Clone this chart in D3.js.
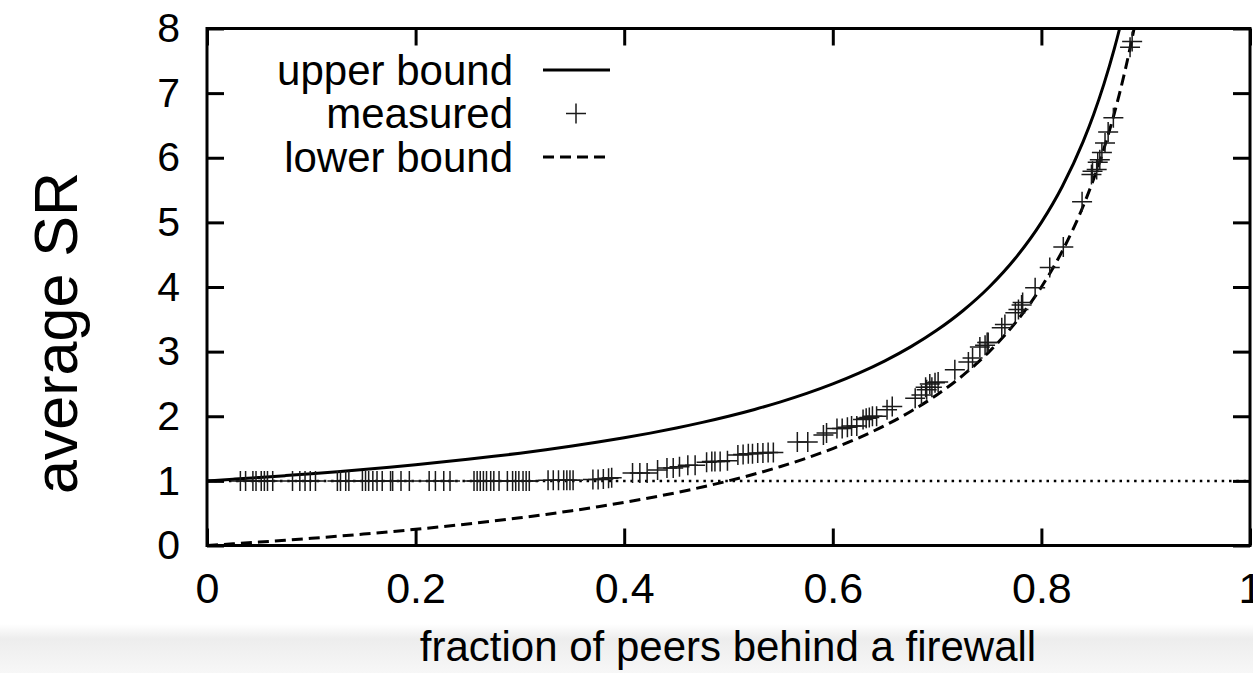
<!DOCTYPE html>
<html>
<head>
<meta charset="utf-8">
<script src="https://cdn.jsdelivr.net/npm/d3@7"></script>
<style>
  html, body { margin: 0; padding: 0; background: #fff; }
  svg { display: block; }
  text { font-family: "Liberation Sans", Arial, Helvetica, sans-serif; fill: #000; }
</style>
</head>
<body>
<svg id="chart" width="1253" height="673"></svg>
<script>
// ---- data ----
const xTicks = [0, 0.2, 0.4, 0.6, 0.8, 1];
const xTickLabels = ["0", "0.2", "0.4", "0.6", "0.8", "1"];
const yTicks = [0, 1, 2, 3, 4, 5, 6, 7, 8];
const yTickLabels = ["0", "1", "2", "3", "4", "5", "6", "7", "8"];

const boundX = [0, 0.025, 0.05, 0.075, 0.1, 0.125, 0.15, 0.175, 0.2, 0.225, 0.25, 0.275, 0.3, 0.325, 0.35, 0.375, 0.4, 0.425, 0.45, 0.475, 0.5, 0.525, 0.55, 0.575, 0.6, 0.625, 0.65, 0.675, 0.7, 0.725, 0.75, 0.775, 0.8, 0.82, 0.84, 0.85, 0.86, 0.87, 0.875, 0.88, 0.885, 0.89];
const upperBound = [1, 1.0256, 1.0526, 1.0811, 1.1111, 1.1429, 1.1765, 1.2121, 1.25, 1.2903, 1.3333, 1.3793, 1.4286, 1.4815, 1.5385, 1.6, 1.6667, 1.7391, 1.8182, 1.9048, 2, 2.1053, 2.2222, 2.3529, 2.5, 2.6667, 2.8571, 3.0769, 3.3333, 3.6364, 4, 4.4444, 5, 5.5556, 6.25, 6.6667, 7.1429, 7.6923, 8, 8.3333, 8.6957, 9.0909];
const lowerBound = [0, 0.0256, 0.0526, 0.0811, 0.1111, 0.1429, 0.1765, 0.2121, 0.25, 0.2903, 0.3333, 0.3793, 0.4286, 0.4815, 0.5385, 0.6, 0.6667, 0.7391, 0.8182, 0.9048, 1, 1.1053, 1.2222, 1.3529, 1.5, 1.6667, 1.8571, 2.0769, 2.3333, 2.6364, 3, 3.4444, 4, 4.5556, 5.25, 5.6667, 6.1429, 6.6923, 7, 7.3333, 7.6957, 8.0909];
const referenceLevel = [1, 1];
const referenceX = [0, 1];

const measuredX = [0.032, 0.037, 0.044, 0.047, 0.052, 0.055, 0.058, 0.063, 0.082, 0.089, 0.094, 0.099, 0.104, 0.125, 0.128, 0.133, 0.136, 0.149, 0.152, 0.155, 0.159, 0.163, 0.168, 0.176, 0.178, 0.186, 0.194, 0.213, 0.219, 0.227, 0.233, 0.256, 0.259, 0.262, 0.265, 0.268, 0.272, 0.275, 0.280, 0.288, 0.293, 0.296, 0.299, 0.303, 0.306, 0.309, 0.327, 0.332, 0.337, 0.342, 0.345, 0.348, 0.351, 0.370, 0.375, 0.380, 0.385, 0.388,
  0.408, 0.415, 0.422, 0.432, 0.441, 0.447, 0.453, 0.461, 0.468, 0.479, 0.484, 0.487, 0.492, 0.499, 0.509, 0.514, 0.519, 0.523, 0.528, 0.533, 0.538, 0.543, 0.566, 0.576, 0.591, 0.594, 0.604, 0.609, 0.614, 0.618, 0.623, 0.629, 0.632, 0.635, 0.638, 0.642, 0.652, 0.657, 0.679, 0.685, 0.689, 0.690, 0.693, 0.695, 0.698, 0.701, 0.717, 0.730, 0.734, 0.741, 0.746, 0.748, 0.749, 0.762, 0.765, 0.775, 0.778, 0.781, 0.782, 0.794, 0.808, 0.821, 0.839, 0.848, 0.849, 0.853, 0.854, 0.856, 0.858, 0.861, 0.864, 0.869, 0.885, 0.887];
const measuredY = [1.0, 1.0, 1.0, 1.0, 1.0, 1.0, 1.0, 1.0, 1.0, 1.0, 1.0, 1.0, 1.0, 1.0, 1.0, 1.0, 1.0, 1.0, 1.0, 1.0, 1.0, 1.0, 1.0, 1.0, 1.0, 1.0, 1.0, 1.0, 1.0, 1.0, 1.0, 1.0, 1.0, 1.0, 1.0, 1.0, 1.0, 1.0, 1.0, 1.0, 1.0, 1.0, 1.0, 1.0, 1.0, 1.0, 1.01, 1.01, 1.01, 1.01, 1.01, 1.01, 1.01, 1.02, 1.02, 1.03, 1.04, 1.05,
  1.12, 1.12, 1.12, 1.17, 1.20, 1.20, 1.22, 1.24, 1.24, 1.29, 1.30, 1.30, 1.30, 1.31, 1.40, 1.41, 1.42, 1.42, 1.43, 1.43, 1.44, 1.44, 1.60, 1.60, 1.71, 1.74, 1.81, 1.81, 1.83, 1.85, 1.85, 1.95, 1.97, 1.98, 2.00, 2.00, 2.10, 2.15, 2.28, 2.33, 2.45, 2.41, 2.50, 2.45, 2.52, 2.53, 2.72, 2.84, 2.90, 3.07, 3.10, 3.14, 3.14, 3.37, 3.42, 3.60, 3.65, 3.72, 3.76, 3.99, 4.30, 4.62, 5.32, 5.74, 5.79, 5.82, 5.93, 5.97, 6.08, 6.23, 6.40, 6.62, 7.71, 7.80];

const legendLabels = ["upper bound", "measured", "lower bound"];
const xTitle = "fraction of peers behind a firewall";
const yTitle = "average SR";

// ---- layout ----
const svg = d3.select("#chart");
const W = 1253, H = 673;
const plot = { left: 207, right: 1250, top: 28.5, bottom: 545.5 };

// bottom shade band
const defs = svg.append("defs");
const grad = defs.append("linearGradient").attr("id", "shade").attr("x1", 0).attr("y1", 0).attr("x2", 0).attr("y2", 1);
grad.append("stop").attr("offset", "0%").attr("stop-color", "#ffffff");
grad.append("stop").attr("offset", "30%").attr("stop-color", "#ededed");
grad.append("stop").attr("offset", "100%").attr("stop-color", "#f7f7f7");
svg.append("rect").attr("x", 0).attr("y", 624).attr("width", W).attr("height", H - 624).attr("fill", "url(#shade)");

defs.append("clipPath").attr("id", "clip").append("rect")
  .attr("x", plot.left).attr("y", plot.top)
  .attr("width", plot.right - plot.left).attr("height", plot.bottom - plot.top);

const x = d3.scaleLinear().domain([0, 1]).range([plot.left, plot.right]);
const y = d3.scaleLinear().domain([0, 8]).range([plot.bottom, plot.top]);

const tickLen = 17;

// bottom axis
const gx = svg.append("g").attr("transform", `translate(0,${plot.bottom})`)
  .call(d3.axisBottom(x).tickValues(xTicks).tickFormat((d, i) => xTickLabels[i])
    .tickSizeInner(-tickLen).tickSizeOuter(0).tickPadding(27));
// left axis
const gy = svg.append("g").attr("transform", `translate(${plot.left},0)`)
  .call(d3.axisLeft(y).tickValues(yTicks).tickFormat((d, i) => yTickLabels[i])
    .tickSizeInner(-tickLen).tickSizeOuter(0).tickPadding(27));
// top axis (ticks only)
const gt = svg.append("g").attr("transform", `translate(0,${plot.top})`)
  .call(d3.axisTop(x).tickValues(xTicks).tickFormat("").tickSizeInner(-tickLen).tickSizeOuter(0));
// right axis (ticks only)
const gr = svg.append("g").attr("transform", `translate(${plot.right},0)`)
  .call(d3.axisRight(y).tickValues(yTicks).tickFormat("").tickSizeInner(-tickLen).tickSizeOuter(0));

[gx, gy, gt, gr].forEach(g => {
  g.select(".domain").remove();
  g.selectAll(".tick line").attr("stroke", "#000").attr("stroke-width", 3);
  g.selectAll(".tick text").attr("font-family", "Liberation Sans, Arial, sans-serif").attr("fill", "#000");
});
gx.selectAll(".tick text").attr("font-size", 43);
gy.selectAll(".tick text").attr("font-size", 41);

// reference dotted line at 1
const line = d3.line().x(d => x(d[0])).y(d => y(d[1]));
const clipG = svg.append("g").attr("clip-path", "url(#clip)");
clipG.append("path")
  .attr("d", line(referenceX.map((v, i) => [v, referenceLevel[i]])))
  .attr("fill", "none").attr("stroke", "#000").attr("stroke-width", 2.5).attr("stroke-dasharray", "2.5,4.8");

const smooth = d3.line().x(d => x(d[0])).y(d => y(d[1])).curve(d3.curveMonotoneX);
clipG.append("path")
  .attr("d", smooth(boundX.map((v, i) => [v, upperBound[i]])))
  .attr("fill", "none").attr("stroke", "#000").attr("stroke-width", 3);
clipG.append("path")
  .attr("d", smooth(boundX.map((v, i) => [v, lowerBound[i]])))
  .attr("fill", "none").attr("stroke", "#000").attr("stroke-width", 3).attr("stroke-dasharray", "11,6");

// measured points as "+"
const half = 10;
const pts = clipG.append("g");
measuredX.forEach((mx, i) => {
  const cx = x(mx), cy = y(measuredY[i]);
  pts.append("path")
    .attr("d", `M${cx - half},${cy}H${cx + half}M${cx},${cy - half}V${cy + half}`)
    .attr("stroke", "#1a1a1a").attr("stroke-width", 1.5).attr("fill", "none");
});

// frame
svg.append("rect").attr("x", plot.left).attr("y", plot.top)
  .attr("width", plot.right - plot.left).attr("height", plot.bottom - plot.top)
  .attr("fill", "none").attr("stroke", "#000").attr("stroke-width", 3);

// legend
const legRowY = [70, 113.5, 157];
const legTextRight = 513;
const leg = svg.append("g");
legendLabels.forEach((lab, i) => {
  leg.append("text").attr("x", legTextRight).attr("y", legRowY[i]).attr("dy", "0.35em")
    .attr("text-anchor", "end").attr("font-size", 42).text(lab);
});
leg.append("line").attr("x1", 543).attr("x2", 610).attr("y1", legRowY[0]).attr("y2", legRowY[0])
  .attr("stroke", "#000").attr("stroke-width", 3);
leg.append("path").attr("d", `M${576 - half},${legRowY[1]}H${576 + half}M576,${legRowY[1] - half}V${legRowY[1] + half}`)
  .attr("stroke", "#1a1a1a").attr("stroke-width", 1.5);
leg.append("line").attr("x1", 543).attr("x2", 610).attr("y1", legRowY[2]).attr("y2", legRowY[2])
  .attr("stroke", "#000").attr("stroke-width", 3).attr("stroke-dasharray", "11,6");

// axis titles
svg.append("text").attr("x", 728).attr("y", 661)
  .attr("text-anchor", "middle").attr("font-size", 42).text(xTitle);
svg.append("text").attr("transform", `translate(77,333) rotate(-90)`)
  .attr("text-anchor", "middle").attr("font-size", 61).text(yTitle);
</script>
</body>
</html>
